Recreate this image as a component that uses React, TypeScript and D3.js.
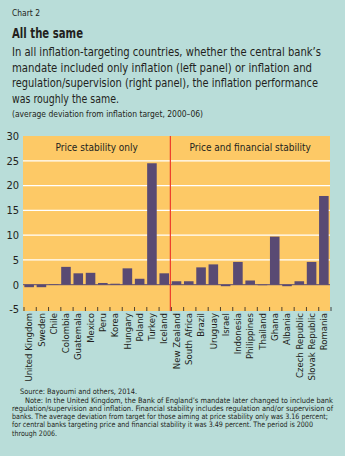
import React from "react";
import * as d3 from "d3";

const countriesPrice = ["United Kingdom","Sweden","Chile","Colombia","Guatemala","Mexico","Peru","Korea","Hungary","Poland","Turkey","Iceland"];
const valuesPrice = [-0.5,-0.5,0.1,3.6,2.3,2.4,0.35,0.2,3.3,1.2,24.5,2.3];
const countriesFin = ["New Zealand","South Africa","Brazil","Uruguay","Israel","Indonesia","Philippines","Thailand","Ghana","Albania","Czech Republic","Slovak Republic","Romania"];
const valuesFin = [0.7,0.7,3.5,4.1,-0.3,4.6,0.85,-0.1,9.7,-0.3,0.7,4.6,17.9];
const yTicks = [-5,0,5,10,15,20,25,30];
const panelLabels = ["Price stability only","Price and financial stability"];

const subtitleLines = [
  "In all inflation-targeting countries, whether the central bank\u2019s",
  "mandate included only inflation (left panel) or inflation and",
  "regulation/supervision (right panel), the inflation performance",
  "was roughly the same.",
];
const footLines = [
  "Note: In the United Kingdom, the Bank of England\u2019s mandate later changed to include bank",
  "regulation/supervision and inflation. Financial stability includes regulation and/or supervision of",
  "banks. The average deviation from target for those aiming at price stability only was 3.16 percent;",
  "for central banks targeting price and financial stability it was 3.49 percent. The period is 2000",
  "through 2006.",
];

const BG = "#b9ddd9";
const PLOT = "#fdc966";
const BAR = "#594a73";
const RED = "#ee3a2a";
const TXT = "#231f20";
const FONT = "'Liberation Sans Narrow', 'DejaVu Sans Condensed', 'Roboto', sans-serif";

export default function App() {
  const W = 345, H = 456;
  const left = 23, right = 330, top = 136, bottom = 311;
  const all = countriesPrice.concat(countriesFin);
  const vals = valuesPrice.concat(valuesFin);
  const x = d3.scaleBand<string>().domain(all).range([left, right]).paddingInner(0.22).paddingOuter(0.11);
  const y = d3.scaleLinear().domain([-5, 30]).range([309.5, 136]);
  const step = x.step();
  const divX = left + countriesPrice.length * (right - left) / all.length;

  const subW = [309, 300, 306, 107];
  const footW = [308, 321, 316, 301, 45];

  return (
    <svg width={W} height={H} style={{ position: "absolute", left: 0, top: 0, fontFamily: FONT }}>
      <rect x={0} y={0} width={W} height={H} fill={BG} />
      <text x={12} y={16} fontSize={8.5} fill={TXT} textLength={28} lengthAdjust="spacingAndGlyphs">Chart 2</text>
      <text x={12} y={38} fontSize={14} fontWeight="bold" fill={TXT} textLength={71} lengthAdjust="spacingAndGlyphs">All the same</text>
      {subtitleLines.map((s, i) => (
        <text key={i} x={12} y={56 + i * 15.5} fontSize={11.6} fill={TXT} textLength={subW[i]} lengthAdjust="spacingAndGlyphs">{s}</text>
      ))}
      <text x={12} y={117} fontSize={8.5} fill={TXT} textLength={191} lengthAdjust="spacingAndGlyphs">(average deviation from inflation target, 2000–06)</text>

      <rect x={left} y={top} width={right - left} height={bottom - top} fill={PLOT} />
      {yTicks.filter(t => t > -5 && t < 30 && t !== 0).map(t => (
        <line key={t} x1={left} x2={right} y1={y(t)} y2={y(t)} stroke="#ffffff" strokeWidth={1.2} />
      ))}
      {yTicks.map(t => (
        <text key={"l" + t} x={19} y={y(t) + 3.8} fontSize={11} textAnchor="end" fill={TXT}>{t}</text>
      ))}
      {all.map((c, i) => (
        <rect key={c} x={x(c)} width={x.bandwidth()} y={y(Math.max(0, vals[i]))}
          height={Math.abs(y(vals[i]) - y(0))} fill={BAR} />
      ))}
      <line x1={left} x2={right} y1={y(0)} y2={y(0)} stroke={BAR} strokeWidth={1} />
      {d3.range(all.length + 1).map(i => (
        <line key={"t" + i} x1={left + i * step + 1} x2={left + i * step + 1} y1={bottom - 4} y2={bottom} stroke={TXT} strokeWidth={0.8} />
      ))}
      <line x1={divX} x2={divX} y1={top} y2={bottom} stroke={RED} strokeWidth={1.2} />
      <text x={(left + divX) / 2} y={151} fontSize={10} textAnchor="middle" fill={TXT}>{panelLabels[0]}</text>
      <text x={(divX + right) / 2} y={151} fontSize={10} textAnchor="middle" fill={TXT}>{panelLabels[1]}</text>
      {all.map(c => {
        const cx = (x(c) as number) + x.bandwidth() / 2 + 3.2;
        return (
          <text key={"x" + c} transform={`translate(${cx},${bottom + 2}) rotate(-90)`} fontSize={9.5} textAnchor="end" fill={TXT}>{c}</text>
        );
      })}
      <text x={20} y={394} fontSize={7.5} fill={TXT} textLength={117} lengthAdjust="spacingAndGlyphs">Source: Bayoumi and others, 2014.</text>
      {footLines.map((s, i) => (
        <text key={"f" + i} x={i === 0 ? 25 : 12} y={402.5 + i * 8.3} fontSize={7.5} fill={TXT} textLength={footW[i]} lengthAdjust="spacingAndGlyphs">{s}</text>
      ))}
    </svg>
  );
}
